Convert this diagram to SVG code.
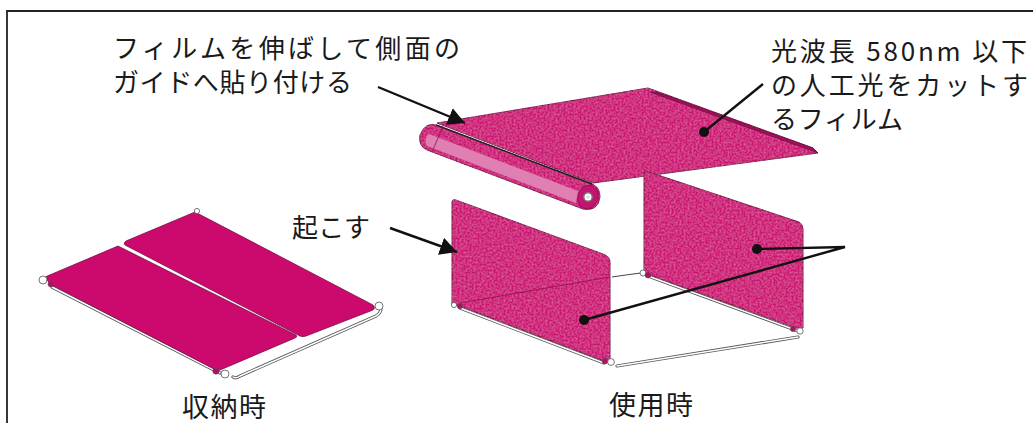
<svg xmlns="http://www.w3.org/2000/svg" width="1033" height="423" viewBox="0 0 1033 423">
<style>
text{font-family:"Noto Sans CJK JP","Noto Sans",sans-serif;font-size:26px;fill:#1a1a1a}
.cap{font-size:27px}
.pink{fill:#cb1673;stroke:#6d1040;stroke-width:1;stroke-linejoin:round;filter:url(#mottle)}
.solid{fill:#cc0a6e;stroke:#7a0c45;stroke-width:.8;stroke-linejoin:round}
.lead{fill:none;stroke:#111;stroke-width:2.4}
.rail{fill:none;stroke:#555;stroke-width:3.2;stroke-linejoin:round;stroke-linecap:round}
.railin{fill:none;stroke:#fff;stroke-width:1.5;stroke-linejoin:round;stroke-linecap:round}
.joint{fill:#fff;stroke:#555;stroke-width:.8}
.hinge{fill:#b01060;stroke:#555;stroke-width:.6}
</style>
<defs>
<filter id="mottle" x="-2%" y="-2%" width="104%" height="104%">
<feTurbulence type="fractalNoise" baseFrequency="0.5" numOctaves="2" seed="4" result="n"/>
<feColorMatrix in="n" type="matrix" values="0 0 0 0 0.92  0 0 0 0 0.3  0 0 0 0 0.58  0 0 0 0.7 -0.25" result="c"/>
<feComposite in="c" in2="SourceGraphic" operator="in" result="m"/>
<feMerge><feMergeNode in="SourceGraphic"/><feMergeNode in="m"/></feMerge>
</filter>
<marker id="head" markerUnits="userSpaceOnUse" markerWidth="20" markerHeight="20" refX="17" refY="9" orient="auto">
<path d="M0 0L17 9L0 18Z" fill="#111"/>
</marker>
</defs>

<g id="frame"><path d="M7 423V11H1033" fill="none" stroke="#222" stroke-width="1.8"/></g>

<g id="stored-unit">
<path class="rail" d="M52 287L220 373M233 377Q236 379 240 376L376 316Q381 313 381 308"/>
<path class="railin" d="M52 287L220 373M233 377Q236 379 240 376L376 316Q381 313 381 308"/>
<path class="solid" d="M45 277L118 246L296 335Q298 337 295 338L220 370Q217 371 214 369L50 284Z"/>
<path class="solid" d="M126 241L195 212L373 305Q376 308 373 310L306 336Q303 337 300 336L125 245Q123 243 126 241Z"/>
<circle class="joint" cx="43" cy="280" r="4"/>
<circle class="joint" cx="197" cy="211" r="2.6"/>
<circle class="joint" cx="379" cy="306" r="4"/>
<circle class="joint" cx="225" cy="374" r="4"/>
<circle class="hinge" cx="51" cy="284" r="3"/>
<circle class="hinge" cx="216" cy="371" r="3.2"/>
<text class="cap" x="182" y="417" textLength="84">収納時</text>
</g>

<g id="film-unit">
<path class="pink" d="M437 123L648 88L813 148L818 153L593 183Z"/>
<path d="M657 92L813 148L818 153L807 149L650 92Z" fill="#a30f5c" stroke="#5c0e37" stroke-width=".6"/>
<path class="pink" d="M436 125L592 184Q600 187 600 197Q598 212 583 209L427 150Q418 146 420 135Q425 122 436 125Z"/>
<path d="M429 134L578 191L576 203L427 146Q423 139 429 134Z" fill="#e07fb2"/>
<path d="M436 125L592 184" fill="none" stroke="#222" stroke-width="1.6"/>
<path d="M443 126Q438 138 432 152M583 187Q575 198 581 208" fill="none" stroke="#8d1050" stroke-width=".8"/>
<ellipse cx="588" cy="197" rx="10" ry="12" transform="rotate(20 588 197)" fill="#c31470" stroke="#8d1050" stroke-width=".8"/>
<circle cx="588" cy="197" r="4.2" fill="#fff" stroke="#777" stroke-width="1.4"/>
<circle cx="588" cy="197" r="1.8" fill="#ddd"/>
</g>

<g id="back-panel">
<path d="M612 277Q625 275 641 273" fill="none" stroke="#444" stroke-width="1"/>
<path class="rail" d="M648 276L798 331"/>
<path class="railin" d="M648 276L798 331"/>
<path class="pink" d="M644 173Q646 170 649 172L799 222Q803 224 803 229L803 328L796 328L650 275L644 274Z"/>
<circle class="joint" cx="643" cy="273" r="3"/>
<circle class="hinge" cx="648" cy="275" r="3"/>
<circle class="hinge" cx="793" cy="329" r="2.6"/>
<circle class="joint" cx="800" cy="331" r="3.2"/>
</g>

<g id="front-panel">
<path class="rail" d="M460 308L604 363M617 366L798 337"/>
<path class="railin" d="M460 308L604 363M617 366L798 337"/>
<path class="pink" d="M452 201Q453 199 456 200L603 254Q609 256 610 261L610 362L604 361L460 306L452 304Z"/>
<path d="M460 303L610 277" fill="none" stroke="#8c1150" stroke-width=".8"/>
<circle class="joint" cx="454" cy="305" r="2.6"/>
<circle class="hinge" cx="460" cy="306" r="2.8"/>
<circle class="hinge" cx="605" cy="361" r="3"/>
<circle class="joint" cx="611" cy="362" r="3.4"/>
<text class="cap" x="609" y="415" textLength="84">使用時</text>
</g>

<g id="connectors">
<path class="lead" d="M378 87L465 123" marker-end="url(#head)"/>
<path class="lead" d="M390 228L457 252" marker-end="url(#head)"/>
<path class="lead" d="M763 84L704 132"/>
<circle cx="704" cy="132" r="5" fill="#111"/>
<path class="lead" d="M584 320L845 247L757 249"/>
<circle cx="584" cy="320" r="5" fill="#111"/>
<circle cx="757" cy="249" r="5" fill="#111"/>
</g>

<g id="labels">
<text x="113" y="57.5" textLength="347">フィルムを伸ばして側面の</text>
<text x="113" y="91.5" textLength="239">ガイドへ貼り付ける</text>
<text x="771" y="61" textLength="256">光波長 580nm 以下</text>
<text x="771" y="95" textLength="257">の人工光をカットす</text>
<text x="771" y="129" textLength="132">るフィルム</text>
<text x="292" y="237" textLength="78">起こす</text>
</g>
</svg>
